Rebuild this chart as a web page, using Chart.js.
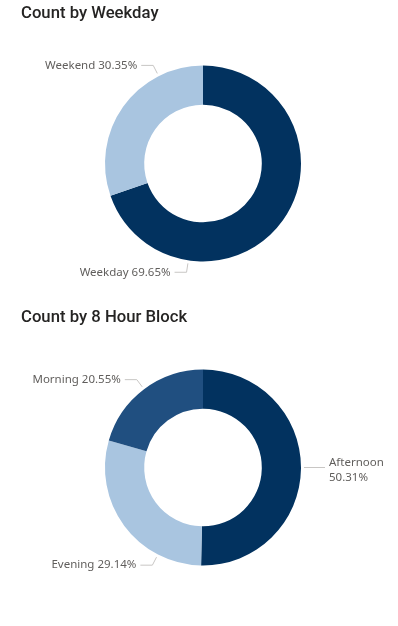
<!DOCTYPE html>
<html>
<head>
<meta charset="utf-8">
<script src="https://cdn.jsdelivr.net/npm/chart.js@4.4.0/dist/chart.umd.min.js"></script>
<style>
body { margin: 0; background: #fff; width: 398px; height: 626px; overflow: hidden; position: relative; }
.box { position: absolute; left: 0; width: 398px; height: 300px; }
.title { position: absolute; left: 21px; font-family: Roboto, sans-serif; font-weight: 500; font-size: 16.7px; line-height: 20px; color: #252423; white-space: nowrap; }
</style>
</head>
<body>
<div class="box" style="top:0"><canvas id="weekdayChart" width="398" height="300"></canvas></div>
<div class="box" style="top:304px"><canvas id="blockChart" width="398" height="300"></canvas></div>
<div class="title" style="top:3px">Count by Weekday</div>
<div class="title" style="top:307px">Count by 8 Hour Block</div>
<script>
var weekdayLabels = ['Weekday', 'Weekend'];
var weekdayShares = [69.65, 30.35];
var weekdayColors = ['#02325F', '#A9C5E0'];

var blockLabels = ['Afternoon', 'Evening', 'Morning'];
var blockShares = [50.31, 29.14, 20.55];
var blockColors = ['#02325F', '#A9C5E0', '#204F80'];

// where each callout touches the ring, degrees clockwise from 12 o'clock
var weekdayLabelAngles = [188.6, 333.1];
var blockLabelAngles = [90, 207.4, 323];

var calloutPlugin = {
    id: 'callouts',
    afterDatasetsDraw: function(chart, args, opts) {
        var ctx = chart.ctx;
        var values = chart.data.datasets[0].data;
        ctx.save();
        ctx.font = '11.5px "Noto Sans", sans-serif';
        ctx.textBaseline = 'middle';
        chart.getDatasetMeta(0).data.forEach(function(arc, i) {
            var r = arc.outerRadius;
            var a = (opts.angles[i] - 90) * Math.PI / 180;
            var cos = Math.cos(a), sin = Math.sin(a);
            var x0 = arc.x + cos * (r + 3), y0 = arc.y + sin * (r + 3);
            var x1 = arc.x + cos * (r + 12), y1 = arc.y + sin * (r + 12);
            var dir = cos >= 0 ? 1 : -1;
            var x2 = x1 + dir * 12;

            ctx.strokeStyle = '#C8C6C4';
            ctx.lineWidth = 1;
            ctx.beginPath();
            ctx.moveTo(x0, y0);
            ctx.lineTo(x1, y1);
            ctx.lineTo(x2, y1);
            ctx.stroke();

            var pct = values[i].toFixed(2) + '%';
            var text = chart.data.labels[i] + ' ' + pct;
            var tx = x2 + dir * 4;
            var room = dir > 0 ? chart.width - tx : tx;
            ctx.fillStyle = '#605E5C';
            ctx.textAlign = dir > 0 ? 'left' : 'right';
            if (ctx.measureText(text).width > room) {
                ctx.fillText(chart.data.labels[i], tx, y1 - 5);
                ctx.fillText(pct, tx, y1 + 10);
            } else {
                ctx.fillText(text, tx, y1);
            }
        });
        ctx.restore();
    }
};

function donut(id, labels, values, colors, angles) {
    return new Chart(document.getElementById(id), {
        type: 'doughnut',
        data: {
            labels: labels,
            datasets: [{
                data: values,
                backgroundColor: colors,
                borderWidth: 0
            }]
        },
        options: {
            responsive: false,
            animation: false,
            cutout: '60%',
            layout: { padding: { left: 8, right: 0, top: 65.5, bottom: 38.5 } },
            plugins: {
                legend: { display: false },
                tooltip: { enabled: false },
                callouts: { angles: angles }
            }
        },
        plugins: [calloutPlugin]
    });
}

donut('weekdayChart', weekdayLabels, weekdayShares, weekdayColors, weekdayLabelAngles);
donut('blockChart', blockLabels, blockShares, blockColors, blockLabelAngles);
</script>
</body>
</html>
